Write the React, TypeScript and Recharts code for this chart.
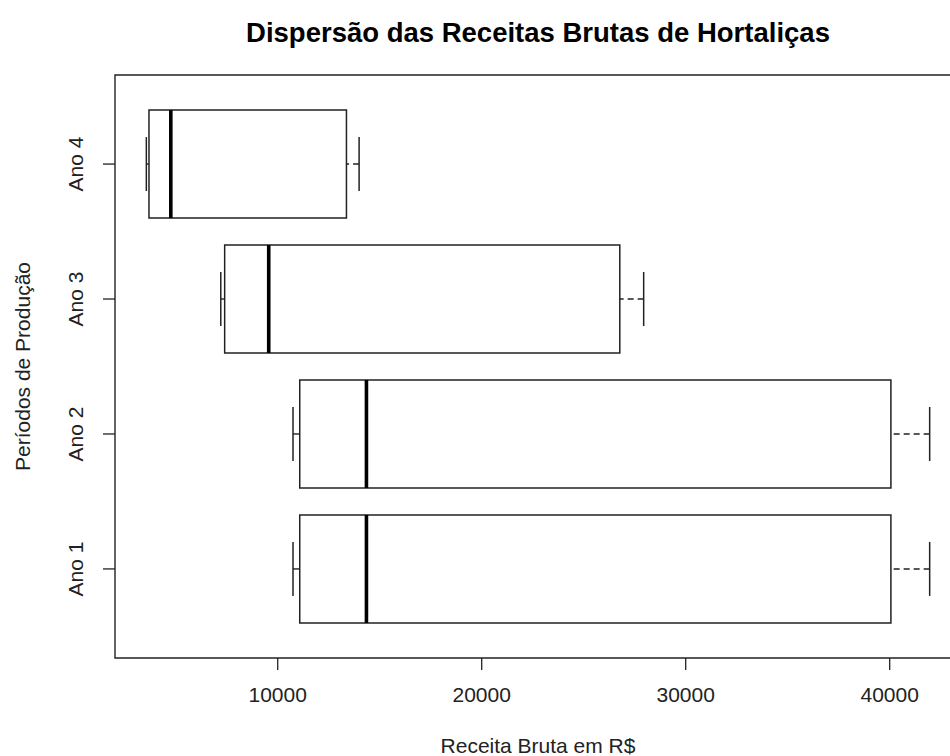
import React from 'react';
import { ComposedChart, XAxis, YAxis, Scatter, ReferenceArea, ReferenceLine, Label } from 'recharts';

const periods = ['Ano 1', 'Ano 2', 'Ano 3', 'Ano 4'];
const whiskerLow = [10750, 10750, 7210, 3560];
const q1 = [11080, 11080, 7400, 3690];
const median = [14350, 14350, 9560, 4760];
const q3 = [40060, 40060, 26770, 13370];
const whiskerHigh = [41960, 41960, 27940, 13990];
const xTicks = [10000, 20000, 30000, 40000];

const rows = periods.map((name, i) => ({
  name,
  pos: i + 1,
  lo: whiskerLow[i],
  q1: q1[i],
  med: median[i],
  q3: q3[i],
  hi: whiskerHigh[i],
}));

// R pads the data range by 4% on each side
const xMin = Math.min(...whiskerLow);
const xMax = Math.max(...whiskerHigh);
const xPad = (xMax - xMin) * 0.04;
const xDomain = [xMin - xPad, xMax + xPad];
const yPad = periods.length * 0.04;
const yDomain = [0.5 - yPad, periods.length + 0.5 + yPad];

const FONT = '"Liberation Sans", Arial, sans-serif';
const INK = '#222';

const W = 975;
const H = 756;
const M = { top: 75, right: 14, left: 15, bottom: 8 };
const Y_AXIS_W = 100;
const X_AXIS_H = 90;
const AXIS_X = M.left + Y_AXIS_W; // left edge of plot
const AXIS_Y = H - M.bottom - X_AXIS_H; // bottom edge of plot
const TICK = 12;

function XTick(props: any) {
  const { x, payload } = props;
  return (
    <g>
      <line x1={x} x2={x} y1={AXIS_Y} y2={AXIS_Y + TICK} stroke={INK} strokeWidth={1.3} />
      <text x={x} y={AXIS_Y + 44} textAnchor="middle" fontSize={21} fill={INK} fontFamily={FONT}>
        {payload.value}
      </text>
    </g>
  );
}

function YTick(props: any) {
  const { y, payload } = props;
  const bx = AXIS_X - 32;
  return (
    <g>
      <line x1={AXIS_X - TICK} x2={AXIS_X} y1={y} y2={y} stroke={INK} strokeWidth={1.3} />
      <text x={bx} y={y} transform={`rotate(-90, ${bx}, ${y})`} textAnchor="middle" fontSize={21} fill={INK} fontFamily={FONT}>
        {periods[payload.value - 1]}
      </text>
    </g>
  );
}

export default function App() {
  const marks: React.ReactNode[] = [];
  rows.forEach((r) => {
    marks.push(
      <ReferenceLine key={`wl${r.pos}`} segment={[{ x: r.lo, y: r.pos }, { x: r.q1, y: r.pos }]} stroke={INK} strokeWidth={1.4} strokeDasharray="6 4" ifOverflow="visible" />,
      <ReferenceLine key={`wh${r.pos}`} segment={[{ x: r.hi, y: r.pos }, { x: r.q3, y: r.pos }]} stroke={INK} strokeWidth={1.4} strokeDasharray="6 4" ifOverflow="visible" />,
      <ReferenceLine key={`sl${r.pos}`} segment={[{ x: r.lo, y: r.pos - 0.2 }, { x: r.lo, y: r.pos + 0.2 }]} stroke={INK} strokeWidth={1.5} ifOverflow="visible" />,
      <ReferenceLine key={`sh${r.pos}`} segment={[{ x: r.hi, y: r.pos - 0.2 }, { x: r.hi, y: r.pos + 0.2 }]} stroke={INK} strokeWidth={1.5} ifOverflow="visible" />,
      <ReferenceArea key={`b${r.pos}`} x1={r.q1} x2={r.q3} y1={r.pos - 0.4} y2={r.pos + 0.4} fill="#fff" fillOpacity={1} stroke={INK} strokeWidth={1.5} ifOverflow="visible" />,
      <ReferenceLine key={`m${r.pos}`} segment={[{ x: r.med, y: r.pos - 0.4 }, { x: r.med, y: r.pos + 0.4 }]} stroke="#000" strokeWidth={3.6} ifOverflow="visible" />
    );
  });

  return (
    <div style={{ position: 'fixed', left: 0, top: 0, width: 950, height: 756, overflow: 'hidden', background: '#fff' }}>
      <div
        style={{
          position: 'absolute',
          left: 538,
          top: 19,
          transform: 'translateX(-50%)',
          whiteSpace: 'nowrap',
          fontFamily: FONT,
          fontWeight: 'bold',
          fontSize: 27.5,
          lineHeight: '27px',
          color: '#000',
        }}
      >
        Dispersão das Receitas Brutas de Hortaliças
      </div>
      <ComposedChart width={W} height={H} data={rows} margin={M}>
        <XAxis
          type="number"
          dataKey="med"
          domain={xDomain}
          ticks={xTicks}
          allowDataOverflow
          axisLine={false}
          tickLine={false}
          height={X_AXIS_H}
          tick={<XTick />}
        >
          <Label
            content={(p: any) => {
              const vb = p.viewBox;
              return (
                <text x={vb.x + vb.width / 2} y={753} textAnchor="middle" fontSize={21} fill={INK} fontFamily={FONT}>
                  Receita Bruta em R$
                </text>
              );
            }}
          />
        </XAxis>
        <YAxis
          type="number"
          dataKey="pos"
          domain={yDomain}
          ticks={[1, 2, 3, 4]}
          allowDataOverflow
          axisLine={false}
          tickLine={false}
          width={Y_AXIS_W}
          tick={<YTick />}
        >
          <Label
            content={(p: any) => {
              const vb = p.viewBox;
              const cy = vb.y + vb.height / 2;
              return (
                <text x={30} y={cy} transform={`rotate(-90, 30, ${cy})`} textAnchor="middle" fontSize={21} fill={INK} fontFamily={FONT}>
                  Períodos de Produção
                </text>
              );
            }}
          />
        </YAxis>
        <ReferenceArea x1={xDomain[0]} x2={xDomain[1]} y1={yDomain[0]} y2={yDomain[1]} fill="none" stroke={INK} strokeWidth={1.4} ifOverflow="visible" />
        {marks}
        <Scatter dataKey="pos" isAnimationActive={false} shape={() => <g />} />
      </ComposedChart>
    </div>
  );
}
